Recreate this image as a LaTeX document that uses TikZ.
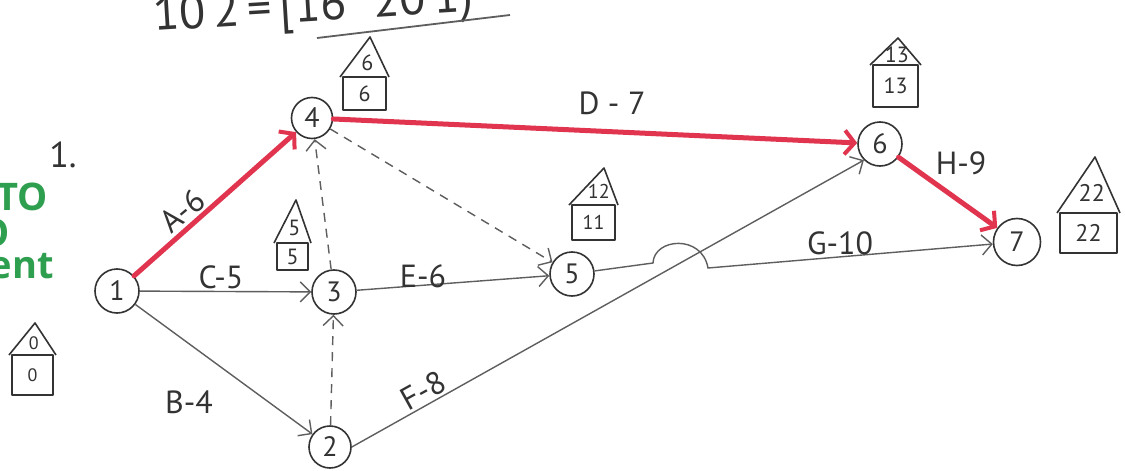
\documentclass[tikz,border=0pt]{standalone}
\usepackage{fontspec}
\setmainfont{PT Sans}
\newfontfamily\greenfont{Open Sans}
\usetikzlibrary{arrows.meta}
\definecolor{ink}{HTML}{333333}
\definecolor{edgegray}{HTML}{5E5E5E}
\definecolor{critred}{HTML}{E0344F}
\definecolor{slidegreen}{HTML}{2E9E4F}
\def\hutsize{22}
\tikzset{
  event/.style={circle, draw=ink, line width=1.6pt, minimum size=44pt, inner sep=0pt,
    font=\fontsize{28}{30}\selectfont, text=ink},
  act/.style={draw=edgegray, line width=1.4pt,
    -{Straight Barb[length=10pt,width=20pt,line width=1.4pt]}},
  dummy/.style={act, dash pattern=on 9pt off 7pt},
  crit/.style={draw=critred, line width=5pt, line cap=round,
    -{Straight Barb[length=10pt,width=24pt,line width=4pt]}},
  lab/.style={font=\fontsize{32}{34}\selectfont, text=ink, inner sep=0pt},
  housel/.style={draw=ink, line width=1.6pt, line join=round},
  hval/.style={font=\fontsize{\hutsize}{\hutsize}\selectfont, text=ink, inner sep=0pt},
  greentext/.style={font=\greenfont\bfseries\fontsize{38}{40}\selectfont, text=slidegreen, inner sep=0pt},
}
% name, L, R, apex x, apex y, mid y, bottom y, top value, bottom value
\newcommand\hut[9]{%
  \draw[housel] (#2,#6) rectangle (#3,#7);
  \draw[housel] ({#2-3},#6) -- (#4,#5) -- ({#3+3},#6);
  \node[hval] (#1-t) at ({(#2+#3+2*#4)/4},{#6-0.36*(#6-#5)}) {#8};
  \node[hval] (#1-b) at ({(#2+#3)/2},{(#6+#7)/2}) {#9};
}
\begin{document}
\begin{tikzpicture}[x=1pt,y=-1pt]
  \path[use as bounding box, fill=white] (0,0) rectangle (1125,471);
  \clip (0,0) rectangle (1125,471);

  % green slide text cut at the left edge
  \node[greentext, anchor=base east] (g1) at (48,210) {TO};
  \node[greentext, anchor=base east] (g2) at (10,246) {O};
  \node[greentext, anchor=base east] (g3) at (54,278) {ment};

  % header and numbering
  \node[font=\fontsize{48}{50}\selectfont, text=ink, anchor=base west, inner sep=0pt, rotate=3.5] (hdr) at (154,31) {10\,2\,=\,[16\;\;20\,1)};
  \coordinate (ulA) at (317,38);
  \coordinate (ulB) at (510,15);
  \draw[draw=edgegray, line width=1.8pt] (ulA) -- (ulB);
  \node[font=\fontsize{36}{38}\selectfont, text=ink, inner sep=0pt] (num) at (63,155) {1.};

  % events
  \node[event] (n1) at (117,291) {1};
  \node[event, minimum size=42pt] (n2) at (330,447) {2};
  \node[event] (n3) at (334,292) {3};
  \node[event, minimum size=41pt] (n4) at (312,118) {4};
  \node[event] (n5) at (572,274) {5};
  \node[event] (n6) at (880,144) {6};
  \node[event, minimum size=47pt] (n7) at (1017,242) {7};

  % activities
  \draw[act] (n1) -- (n3);
  \draw[act] (n1) -- (n2);
  \draw[dummy] (n2) -- (n3);
  \draw[dummy] (n3) -- (n4);
  \draw[dummy] (n4) -- (n5);
  \draw[act] (n3) -- (n5);
  \draw[act] (n2.east) -- (n6.south west);
  \coordinate (hopA) at (653,263);
  \coordinate (hopB) at (708,268);
  \draw[act] (n5) -- (hopA) .. controls (654,238) and (702,234) .. (hopB) -- (n7);
  \draw[crit] (n1) -- (n4);
  \draw[crit] (n4) -- (n6);
  \draw[crit] (n6) -- (n7);

  % activity labels
  \node[lab, rotate=40, anchor=south] (lA) at (190,220) {A-6};
  \node[lab] (lB) at (189,402) {B-4};
  \node[lab] (lC) at (221,277) {C-5};
  \node[lab] (lD) at (612,103) {D - 7};
  \node[lab] (lE) at (423,276) {E-6};
  \node[lab, rotate=29, anchor=south] (lF) at (429,401) {F-8};
  \node[lab] (lG) at (840,243) {G-10};
  \node[lab] (lH) at (961,163) {H-9};

  % event time houses
  \def\hutsize{18}
  \hut{h1}{12}{53}{35}{323}{355}{395}{0}{0}
  \def\hutsize{22}
  \hut{h3}{277}{308}{296}{200}{243}{270}{5}{5}
  \hut{h4}{343}{386}{370}{37}{77}{110}{6}{6}
  \def\hutsize{20}
  \hut{h5}{572}{615}{604}{168}{205}{240}{12}{11}
  \def\hutsize{22}
  \hut{h6}{873}{918}{898}{38}{65}{107}{13}{13}
  \def\hutsize{24}
  \hut{h7}{1060}{1117}{1095}{157}{213}{253}{22}{22}
\end{tikzpicture}
\end{document}
